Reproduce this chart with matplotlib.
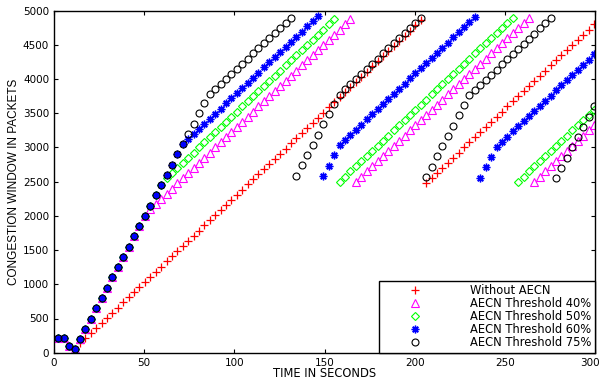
import numpy as np
import matplotlib
matplotlib.use('Agg')
import matplotlib.pyplot as plt
from matplotlib.transforms import ScaledTranslation

# sample times (s), one marker every 3 s
time_s = [2.4, 5.4, 8.4, 11.4, 14.4, 17.4, 20.4, 23.4, 26.4, 29.4,
          32.4, 35.4, 38.4, 41.4, 44.4, 47.4, 50.4, 53.4, 56.4, 59.4,
          62.4, 65.4, 68.4, 71.4, 74.4, 77.4, 80.4, 83.4, 86.4, 89.4,
          92.4, 95.4, 98.4, 101.4, 104.4, 107.4, 110.4, 113.4, 116.4, 119.4,
          122.4, 125.4, 128.4, 131.4, 134.4, 137.4, 140.4, 143.4, 146.4, 149.4,
          152.4, 155.4, 158.4, 161.4, 164.4, 167.4, 170.4, 173.4, 176.4, 179.4,
          182.4, 185.4, 188.4, 191.4, 194.4, 197.4, 200.4, 203.4, 206.4, 209.4,
          212.4, 215.4, 218.4, 221.4, 224.4, 227.4, 230.4, 233.4, 236.4, 239.4,
          242.4, 245.4, 248.4, 251.4, 254.4, 257.4, 260.4, 263.4, 266.4, 269.4,
          272.4, 275.4, 278.4, 281.4, 284.4, 287.4, 290.4, 293.4, 296.4, 299.4]

# start-up phase shared by all AECN runs
slow_start = [220, 220, 100, 50, 200, 350, 500, 650, 800, 950,
              1100, 1250, 1400, 1550, 1700, 1850, 2000, 2150, 2300, 2450,
              2600, 2750, 2900, 3050, 3200, 3350, 3500, 3650]

# without AECN (starts at the 5th sample)
cwnd_plain = [135, 210, 285, 360, 435, 510, 585, 660, 735, 810,
              885, 960, 1035, 1110, 1185, 1260, 1335, 1410, 1485, 1560,
              1635, 1710, 1785, 1860, 1935, 2010, 2085, 2160, 2235, 2310,
              2385, 2460, 2535, 2610, 2685, 2760, 2835, 2910, 2985, 3060,
              3135, 3210, 3285, 3360, 3435, 3510, 3585, 3660, 3735, 3810,
              3885, 3960, 4035, 4110, 4185, 4260, 4335, 4410, 4485, 4560,
              4635, 4710, 4785, 4860,
              2475, 2550, 2625, 2700, 2775, 2850, 2925, 3000, 3075, 3150,
              3225, 3300, 3375, 3450, 3525, 3600, 3675, 3750, 3825, 3900,
              3975, 4050, 4125, 4200, 4275, 4350, 4425, 4500, 4575, 4650,
              4725, 4800]

cwnd_40 = slow_start[:17] + [
    2100, 2175, 2250, 2325, 2400, 2475, 2550, 2625, 2700, 2775,
    2850, 2925, 3000, 3075, 3150, 3225, 3300, 3375, 3450, 3525,
    3600, 3675, 3750, 3825, 3900, 3975, 4050, 4125, 4200, 4275,
    4350, 4425, 4500, 4575, 4650, 4725, 4800, 4875,
    2500, 2575, 2650, 2725, 2800, 2875, 2950, 3025, 3100, 3175,
    3250, 3325, 3400, 3475, 3550, 3625, 3700, 3775, 3850, 3925,
    4000, 4075, 4150, 4225, 4300, 4375, 4450, 4525, 4600, 4675,
    4750, 4825, 4900,
    2500, 2575, 2650, 2725, 2800, 2875, 2950, 3025, 3100, 3175,
    3250, 3325]

cwnd_50 = slow_start[:20] + [
    2550, 2625, 2700, 2775, 2850, 2925, 3000, 3075, 3150, 3225,
    3300, 3375, 3450, 3525, 3600, 3675, 3750, 3825, 3900, 3975,
    4050, 4125, 4200, 4275, 4350, 4425, 4500, 4575, 4650, 4725,
    4800, 4875,
    2500, 2575, 2650, 2725, 2800, 2875, 2950, 3025, 3100, 3175,
    3250, 3325, 3400, 3475, 3550, 3625, 3700, 3775, 3850, 3925,
    4000, 4075, 4150, 4225, 4300, 4375, 4450, 4525, 4600, 4675,
    4750, 4825, 4900,
    2500, 2575, 2650, 2725, 2800, 2875, 2950, 3025, 3100, 3175,
    3250, 3325, 3400, 3475, 3550]

cwnd_60 = slow_start[:24] + [
    3120, 3195, 3270, 3345, 3420, 3495, 3570, 3645, 3720, 3795,
    3870, 3945, 4020, 4095, 4170, 4245, 4320, 4395, 4470, 4545,
    4620, 4695, 4770, 4845, 4920,
    2590, 2735, 2885, 3030, 3110, 3185, 3260, 3335, 3410, 3485,
    3560, 3635, 3710, 3785, 3860, 3935, 4010, 4085, 4160, 4235,
    4310, 4385, 4460, 4535, 4610, 4685, 4760, 4835, 4910,
    2560, 2710, 2860, 3010, 3085, 3160, 3235, 3310, 3385, 3460,
    3535, 3610, 3685, 3760, 3835, 3910, 3985, 4060, 4135, 4210,
    4285, 4360]

cwnd_75 = slow_start[:28] + [
    3780, 3850, 3925, 4000, 4075, 4150, 4225, 4300, 4375, 4450,
    4525, 4600, 4675, 4750, 4825, 4900,
    2590, 2740, 2890, 3040, 3190, 3340, 3490, 3640, 3770, 3850,
    3925, 4000, 4075, 4150, 4225, 4300, 4375, 4450, 4525, 4600,
    4675, 4750, 4825, 4900,
    2570, 2720, 2870, 3020, 3170, 3320, 3470, 3620, 3765, 3840,
    3915, 3990, 4065, 4140, 4215, 4290, 4365, 4440, 4515, 4590,
    4665, 4740, 4815, 4890,
    2550, 2700, 2850, 3000, 3150, 3300, 3450, 3600]

labels = ['Without AECN', 'AECN Threshold 40%', 'AECN Threshold 50%',
          'AECN Threshold 60%', 'AECN Threshold 75%']

x_ticks = [0, 50, 100, 150, 200, 250, 300]
y_ticks = [0, 500, 1000, 1500, 2000, 2500, 3000, 3500, 4000, 4500, 5000]

plt.rcParams['font.family'] = ['DejaVu Sans']

fig = plt.figure(figsize=(6.03, 3.84), dpi=100)
ax = fig.add_axes([54 / 603, 1 - 352.7 / 384, 541 / 603, 342 / 384])

t = np.array(time_s)
ax.plot(t[4:], cwnd_plain, linestyle='none', marker='+', color='#ff0000',
        markersize=5.5, markeredgewidth=0.9, label=labels[0])
ax.plot(t, cwnd_40, linestyle='none', marker='^', markerfacecolor='none',
        markeredgecolor='#ff00ff', markersize=5.8, markeredgewidth=0.8, label=labels[1])
ax.plot(t, cwnd_50, linestyle='none', marker='D', markerfacecolor='none',
        markeredgecolor='#00ff00', markersize=4.2, markeredgewidth=0.8, label=labels[2])
ax.plot(t, cwnd_60, linestyle='none', marker=(8, 2, 0), color='#0000ff',
        markersize=5.5, markeredgewidth=1.0, label=labels[3])
ax.plot(t, cwnd_75, linestyle='none', marker='o', markerfacecolor='none',
        markeredgecolor='black', markersize=5, markeredgewidth=0.8, label=labels[4])

ax.set_xlim(0, 300)
ax.set_ylim(0, 5000)
ax.set_xticks(x_ticks)
ax.set_yticks(y_ticks)
ax.tick_params(direction='in', length=3, width=0.8, top=True, right=True,
               labelsize=7.5, pad=3.5)
for sp in ax.spines.values():
    sp.set_linewidth(1.0)

# last x label sits on the figure edge; nudge it in a little
last = ax.get_xticklabels()[-1]
last.set_transform(last.get_transform() + ScaledTranslation(-5 / 100, 0, fig.dpi_scale_trans))

fig.text(324.5 / 603, 1 - 373.5 / 384, 'TIME IN SECONDS', ha='center', va='center',
         fontsize=8.3)
fig.text(14.5 / 603, 1 - 182 / 384, 'CONGESTION WINDOW IN PACKETS', rotation=90,
         ha='center', va='center', fontsize=8.5,
         family=['Liberation Sans Narrow', 'Liberation Sans'])

leg = ax.legend(loc='lower right', bbox_to_anchor=(1, 0), borderaxespad=0,
                fontsize=8.3, numpoints=1, handlelength=5.6, handletextpad=2.0,
                labelspacing=0.0, borderpad=0.3, fancybox=False, framealpha=1)
leg.get_frame().set_edgecolor('black')
leg.get_frame().set_linewidth(1.0)

fig.savefig('out.png', dpi=100)
